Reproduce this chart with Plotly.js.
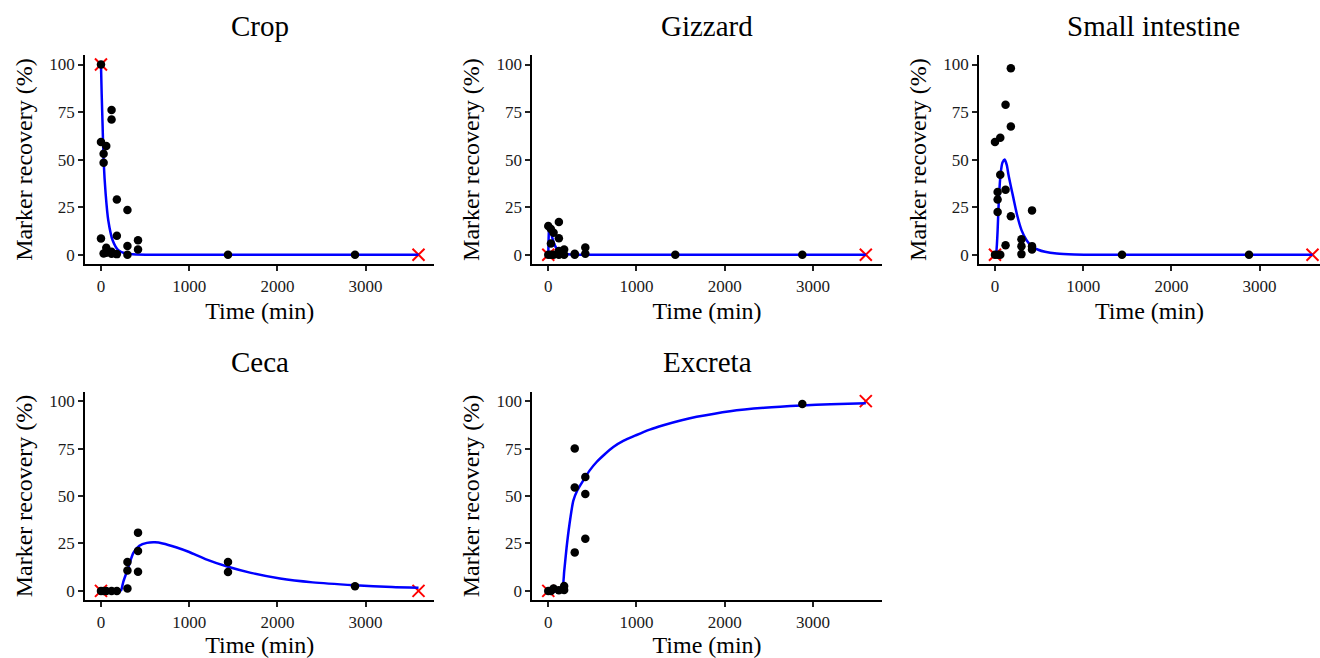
<!DOCTYPE html>
<html>
<head>
<meta charset="utf-8">
<script src="https://cdn.plot.ly/plotly-3.0.1.min.js"></script>
<style>
html,body{margin:0;padding:0;background:#fff;}
#chart{width:1320px;height:658px;}
</style>
</head>
<body>
<div id="chart"></div>
<script>
// ---------- Data ----------
const panelNames = ["Crop", "Gizzard", "Small intestine", "Ceca", "Excreta"];
const xTickVals = [0, 1000, 2000, 3000];
const yTickVals = [0, 25, 50, 75, 100];

// Observed points (time in min, marker recovery in %)
const cropTime = [0, 0, 0, 30, 30, 30, 60, 60, 60, 120, 120, 120, 120, 180, 180, 180, 300, 300, 300, 420, 420, 1440, 2880];
const cropRec  = [100, 59.2, 8.5, 53.1, 48.3, 0.6, 57.1, 3.6, 1.0, 76.1, 71.1, 1.5, 0.5, 29.0, 9.9, 0.3, 23.5, 4.6, 0, 7.6, 2.7, 0, 0];

const gizzardTime = [0, 0, 30, 30, 30, 60, 60, 120, 120, 120, 120, 180, 180, 300, 300, 420, 420, 1440, 2880];
const gizzardRec  = [15.1, 0, 13.5, 5.9, 0, 11.5, 0, 17.2, 8.6, 2.0, 0, 2.7, 0, 0.5, 0, 3.8, 0.5, 0, 0];

const intestineTime = [0, 0, 30, 30, 30, 30, 60, 60, 60, 120, 120, 120, 180, 180, 180, 300, 300, 300, 420, 420, 420, 1440, 2880];
const intestineRec  = [59.2, 0, 33.0, 29.0, 22.5, 0, 61.5, 42.0, 0, 78.8, 34.2, 5.0, 98.0, 67.4, 20.2, 8.1, 4.5, 0.3, 23.3, 4.5, 2.7, 0, 0];

const cecaTime = [0, 30, 60, 120, 180, 300, 300, 300, 420, 420, 420, 1440, 1440, 2880];
const cecaRec  = [0, 0, 0, 0, 0, 15.2, 10.7, 1.3, 30.7, 21.0, 10.1, 15.2, 10.0, 2.5];

const excretaTime = [0, 30, 60, 120, 180, 180, 300, 300, 300, 420, 420, 420, 2880];
const excretaRec  = [0, 0, 1.3, 0.3, 2.6, 0.5, 75.0, 54.5, 20.3, 60.0, 51.0, 27.5, 98.5];

// Fitted curves
const cropFitTime = [0, 8, 19, 30, 53, 83, 132, 196, 285, 400, 600, 1000, 3600];
const cropFitRec  = [100, 84.5, 67, 49.5, 32, 18, 7.6, 2.4, 0.6, 0.1, 0, 0, 0];

const gizzardFitTime = [0, 5, 10, 18, 30, 45, 65, 90, 120, 160, 220, 300, 3600];
const gizzardFitRec  = [0, 10, 13.5, 13.8, 12, 9, 6, 3.5, 1.8, 0.7, 0.2, 0, 0];

const intestineFitTime = [0, 12, 20, 30, 45, 64, 85, 110, 135, 151, 180, 208, 250, 302, 360, 416, 490, 567, 700, 900, 1200, 3600];
const intestineFitRec  = [0, 0.5, 4, 12.8, 30, 42.6, 48.5, 50, 47, 42.6, 36, 30, 21, 12.8, 7.5, 4.5, 2.6, 1.5, 0.6, 0.15, 0, 0];

const cecaFitTime = [0, 200, 227, 253, 300, 367, 435, 520, 612, 700, 850, 1000, 1200, 1440, 1700, 2030, 2400, 2880, 3300, 3600];
const cecaFitRec  = [0, 0, 0.3, 4.8, 11, 20, 23.8, 25.3, 25.6, 25, 23, 20.5, 16.5, 12.7, 9.5, 6.5, 4.5, 3.0, 2.0, 1.6];

const excretaFitTime = [0, 150, 181, 208, 240, 284, 330, 397, 470, 548, 640, 737, 850, 994, 1150, 1304, 1500, 1682, 2060, 2450, 2873, 3200, 3600];
const excretaFitRec  = [0, 0, 10.6, 23, 35, 47.6, 53, 58.2, 63.5, 67.9, 72, 75.8, 79, 82, 85, 87.3, 89.8, 91.7, 94.7, 96.5, 97.7, 98.3, 98.8];

// Boundary values (red crosses)
const boundTime = [0, 3600];
const cropBound = [100, 0];
const gizzardBound = [0, 0];
const intestineBound = [0, 0];
const cecaBound = [0, 0];
const excretaBound = [0, 100];

// ---------- Build ----------
const obsT = [cropTime, gizzardTime, intestineTime, cecaTime, excretaTime];
const obsV = [cropRec, gizzardRec, intestineRec, cecaRec, excretaRec];
const fitT = [cropFitTime, gizzardFitTime, intestineFitTime, cecaFitTime, excretaFitTime];
const fitV = [cropFitRec, gizzardFitRec, intestineFitRec, cecaFitRec, excretaFitRec];
const bnd  = [cropBound, gizzardBound, intestineBound, cecaBound, excretaBound];

const W = 1320, H = 658;
const FONT = "Liberation Serif, Times New Roman, serif";
// pixel geometry of the panels
const colX = [[85.1, 434.4], [532.4, 881.7], [979.1, 1320]];
const colRange = [[-180, 3780], [-180, 3780], [-180, 3685]];
const rowY = [[55.0, 264.2], [391.6, 600.4]];
const titleCenterX = [259.8, 707.05, 1153.4];
const panelPos = [[0, 0], [0, 1], [0, 2], [1, 0], [1, 1]];

const traces = [];
const layout = {
  width: W, height: H,
  margin: {l: 0, r: 0, t: 0, b: 0},
  paper_bgcolor: "#fff", plot_bgcolor: "#fff",
  showlegend: false,
  font: {family: FONT, color: "#000"},
  annotations: []
};

panelPos.forEach((pos, i) => {
  const r = pos[0], c = pos[1];
  const n = i + 1;
  const xa = n === 1 ? "x" : "x" + n;
  const ya = n === 1 ? "y" : "y" + n;
  const xk = n === 1 ? "xaxis" : "xaxis" + n;
  const yk = n === 1 ? "yaxis" : "yaxis" + n;

  layout[xk] = {
    domain: [colX[c][0] / W, colX[c][1] / W],
    range: colRange[c],
    anchor: ya,
    tickvals: xTickVals,
    ticktext: xTickVals.map(String),
    showgrid: false, zeroline: false,
    showline: true, linecolor: "#000", linewidth: 2,
    ticks: "outside", ticklen: 5, tickwidth: 2, tickcolor: "#222",
    tickfont: {family: FONT, size: 17, color: "#1a1a1a"},
    title: {text: "Time (min)", font: {family: FONT, size: 24, color: "#000"}, standoff: 8},
    automargin: false, fixedrange: true
  };
  layout[yk] = {
    domain: [1 - rowY[r][1] / H, 1 - rowY[r][0] / H],
    range: [-5, 105],
    anchor: xa,
    tickvals: yTickVals,
    ticktext: yTickVals.map(String),
    showgrid: false, zeroline: false,
    showline: true, linecolor: "#000", linewidth: 2,
    ticks: "outside", ticklen: 5, tickwidth: 2, tickcolor: "#222",
    tickfont: {family: FONT, size: 17, color: "#1a1a1a"},
    title: {text: "Marker recovery (%)", font: {family: FONT, size: 24, color: "#000"}, standoff: 10},
    automargin: false, fixedrange: true
  };

  // red crosses
  traces.push({
    type: "scatter", mode: "markers", xaxis: xa, yaxis: ya,
    x: boundTime, y: bnd[i],
    marker: {symbol: "x-thin-open", size: 12, color: "#ff0000", line: {width: 2, color: "#ff0000"}},
    hoverinfo: "skip", cliponaxis: false
  });
  // fitted curve
  traces.push({
    type: "scatter", mode: "lines", xaxis: xa, yaxis: ya,
    x: fitT[i], y: fitV[i],
    line: {color: "#0000ff", width: 2.5, shape: "spline", smoothing: 0.6},
    hoverinfo: "skip"
  });
  // observed points
  traces.push({
    type: "scatter", mode: "markers", xaxis: xa, yaxis: ya,
    x: obsT[i], y: obsV[i],
    marker: {symbol: "circle", size: 8.5, color: "#000"},
    cliponaxis: false
  });

  layout.annotations.push({
    text: panelNames[i], showarrow: false,
    xref: "paper", yref: "paper",
    x: titleCenterX[c] / W, xanchor: "center",
    y: 1 - (r === 0 ? 25.8 : 361.8) / H, yanchor: "middle",
    font: {family: FONT, size: 29, color: "#000"}
  });
});

Plotly.newPlot("chart", traces, layout, {staticPlot: true, displayModeBar: false});
</script>
</body>
</html>
